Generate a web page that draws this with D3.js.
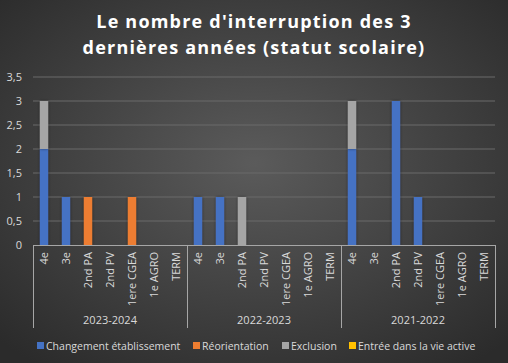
<!DOCTYPE html>
<html>
<head>
<meta charset="utf-8">
<script src="https://cdn.jsdelivr.net/npm/d3@7"></script>
<style>
  body { margin: 0; background: #333; }
  svg { display: block; }
</style>
</head>
<body>
<div id="chart"></div>
<script>
const W = 508, H = 363;

// data
const years = ["2023-2024", "2022-2023", "2021-2022"];
const classes = ["4e", "3e", "2nd PA", "2nd PV", "1ere CGEA", "1e AGRO", "TERM"];
const seriesNames = ["Changement établissement", "Réorientation", "Exclusion", "Entrée dans la vie active"];
const seriesColors = ["#4472C4", "#ED7D31", "#A5A5A5", "#FFC000"];
// values per year, per class (same order as classes)
const changement = [
  [2, 1, 0, 0, 0, 0, 0],
  [1, 1, 0, 0, 0, 0, 0],
  [2, 0, 3, 1, 0, 0, 0]
];
const reorientation = [
  [0, 0, 1, 0, 1, 0, 0],
  [0, 0, 0, 0, 0, 0, 0],
  [0, 0, 0, 0, 0, 0, 0]
];
const exclusion = [
  [1, 0, 0, 0, 0, 0, 0],
  [0, 0, 1, 0, 0, 0, 0],
  [1, 0, 0, 0, 0, 0, 0]
];
const vieActive = [
  [0, 0, 0, 0, 0, 0, 0],
  [0, 0, 0, 0, 0, 0, 0],
  [0, 0, 0, 0, 0, 0, 0]
];
const yTicks = [0, 0.5, 1, 1.5, 2, 2.5, 3, 3.5];

const rows = [];
years.forEach((yr, i) => {
  classes.forEach((c, j) => {
    rows.push({
      key: yr + "|" + c, year: yr, cls: c,
      s0: changement[i][j], s1: reorientation[i][j], s2: exclusion[i][j], s3: vieActive[i][j]
    });
  });
});

const svg = d3.select("#chart").append("svg")
  .attr("width", W).attr("height", H);

const defs = svg.append("defs");
const bg = defs.append("radialGradient").attr("id", "bg")
  .attr("cx", "50%").attr("cy", "45%").attr("r", "70%");
bg.append("stop").attr("offset", "0%").attr("stop-color", "#5b5b5b");
bg.append("stop").attr("offset", "100%").attr("stop-color", "#2b2b2b");

const shadow = defs.append("filter").attr("id", "sh")
  .attr("x", "-50%").attr("y", "-10%").attr("width", "200%").attr("height", "130%");
shadow.append("feDropShadow").attr("dx", 0).attr("dy", 0).attr("stdDeviation", 1.5)
  .attr("flood-color", "#000").attr("flood-opacity", 0.45);

svg.append("rect").attr("width", W).attr("height", H).attr("fill", "url(#bg)");

// title
svg.append("text")
  .attr("x", W / 2).attr("text-anchor", "middle")
  .attr("font-family", "Open Sans, sans-serif").attr("font-weight", "bold")
  .attr("font-size", 18).attr("letter-spacing", 1.2).attr("fill", "#ffffff")
  .selectAll("tspan")
  .data(["Le nombre d'interruption des 3", "dernières années (statut scolaire)"])
  .enter().append("tspan")
  .attr("x", W / 2).attr("y", (d, i) => 28 + i * 26)
  .text(d => d);

const x0 = 33, x1 = 495;
const yScale = d3.scaleLinear().domain([0, 3.5]).range([245, 77]);
const xScale = d3.scaleBand()
  .domain(rows.map(d => d.key))
  .range([x0, x1])
  .paddingInner(0.62)
  .paddingOuter(0.31);

// gridlines
svg.append("g").selectAll("line")
  .data(yTicks.filter(d => d > 0))
  .enter().append("line")
  .attr("x1", x0).attr("x2", x1)
  .attr("y1", d => yScale(d)).attr("y2", d => yScale(d))
  .attr("stroke", "#6b6b6b").attr("stroke-width", 1);

// y axis labels
svg.append("g").selectAll("text")
  .data(yTicks)
  .enter().append("text")
  .attr("x", 22).attr("y", d => yScale(d) + 4)
  .attr("text-anchor", "end")
  .attr("font-family", "Open Sans, sans-serif").attr("font-size", 11)
  .attr("fill", "#d9d9d9")
  .text(d => String(d).replace(".", ","));

// stacked bars
const stack = d3.stack().keys(["s0", "s1", "s2", "s3"]);
const stacked = stack(rows);
svg.append("g").selectAll("g")
  .data(stacked)
  .enter().append("g")
  .attr("fill", (d, i) => seriesColors[i])
  .selectAll("rect")
  .data(d => d.filter(p => p[1] - p[0] > 0))
  .enter().append("rect")
  .attr("x", d => xScale(d.data.key))
  .attr("width", xScale.bandwidth())
  .attr("y", d => yScale(d[1]))
  .attr("height", d => yScale(d[0]) - yScale(d[1]))
  .attr("filter", "url(#sh)");

// x axis line
svg.append("line")
  .attr("x1", x0).attr("x2", x1)
  .attr("y1", yScale(0) + 0.5).attr("y2", yScale(0) + 0.5)
  .attr("stroke", "#a6a6a6");

// group separators
const groupStep = (x1 - x0) / years.length;
svg.append("g").selectAll("line")
  .data(d3.range(years.length + 1))
  .enter().append("line")
  .attr("x1", i => x0 + i * groupStep + 0.5).attr("x2", i => x0 + i * groupStep + 0.5)
  .attr("y1", yScale(0)).attr("y2", 328)
  .attr("stroke", "#a6a6a6");

// category labels (rotated)
svg.append("g").selectAll("text")
  .data(rows)
  .enter().append("text")
  .attr("transform", d => `translate(${xScale(d.key) + xScale.bandwidth() / 2 + 4},252) rotate(-90)`)
  .attr("text-anchor", "end")
  .attr("font-family", "Open Sans, sans-serif").attr("font-size", 11)
  .attr("fill", "#d9d9d9")
  .text(d => d.cls);

// year labels
svg.append("g").selectAll("text")
  .data(years)
  .enter().append("text")
  .attr("x", (d, i) => x0 + (i + 0.5) * groupStep)
  .attr("y", 324)
  .attr("text-anchor", "middle")
  .attr("font-family", "Open Sans, sans-serif").attr("font-size", 11)
  .attr("fill", "#d9d9d9")
  .text(d => d);

// legend
const legendX = [37, 193, 282, 349];
const lg = svg.append("g").selectAll("g")
  .data(seriesNames)
  .enter().append("g")
  .attr("transform", (d, i) => `translate(${legendX[i]},342)`);
lg.append("rect").attr("width", 7).attr("height", 7)
  .attr("fill", (d, i) => seriesColors[i]);
lg.append("text").attr("x", 9).attr("y", 7.5)
  .attr("font-family", "Open Sans, sans-serif").attr("font-size", 10.5)
  .attr("fill", "#d9d9d9")
  .text(d => d);
</script>
</body>
</html>
